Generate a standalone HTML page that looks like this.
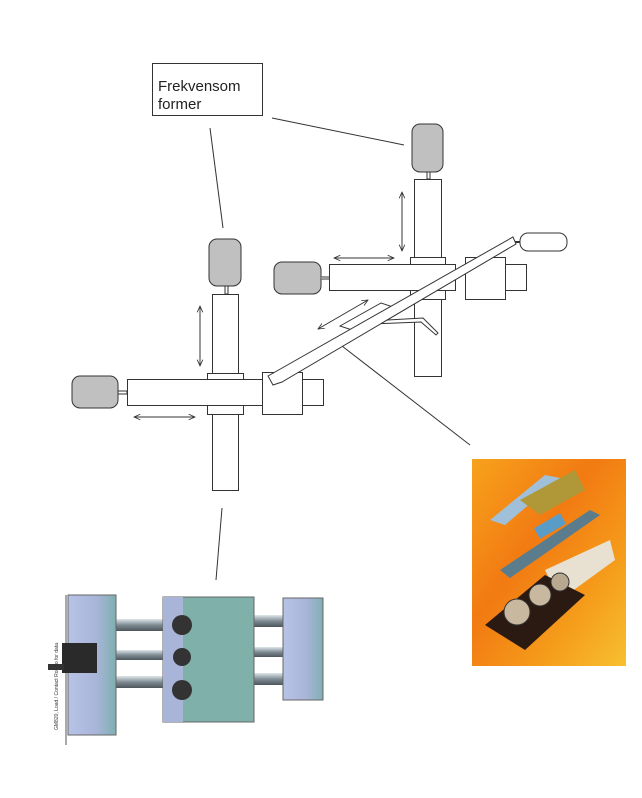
<!DOCTYPE html>
<html><head><meta charset="utf-8"><style>
html,body{margin:0;padding:0;background:#fff;width:642px;height:798px;overflow:hidden}
svg{display:block}
</style></head><body>
<svg width="642" height="798" viewBox="0 0 642 798" xmlns="http://www.w3.org/2000/svg">
<defs>
<marker id="ah" viewBox="0 0 10 10" refX="9" refY="5" markerWidth="7" markerHeight="7" orient="auto-start-reverse"><path d="M0,1 L9,5 L0,9" fill="none" stroke="#333" stroke-width="1.2"/></marker>
<linearGradient id="org" x1="0" y1="0" x2="1" y2="1"><stop offset="0" stop-color="#f7a21c"/><stop offset="0.4" stop-color="#f27a12"/><stop offset="0.7" stop-color="#f59a1a"/><stop offset="1" stop-color="#f7c030"/></linearGradient>
<linearGradient id="rod" x1="0" y1="0" x2="0" y2="1"><stop offset="0" stop-color="#dfe6ea"/><stop offset="0.5" stop-color="#7f8c94"/><stop offset="1" stop-color="#4c565c"/></linearGradient>
<linearGradient id="plate" x1="0" y1="0" x2="1" y2="0"><stop offset="0" stop-color="#b8c4e6"/><stop offset="0.6" stop-color="#a8b4d8"/><stop offset="1" stop-color="#7fb0b0"/></linearGradient>
</defs>
<g fill="none" stroke="#333" stroke-width="1">
<!-- label box -->
<rect x="152.5" y="63.5" width="110" height="52" fill="#fff"/>
<line x1="210" y1="128" x2="223" y2="228"/>
<line x1="272" y1="118" x2="404" y2="145"/>
<line x1="222" y1="508" x2="216" y2="580"/>
<line x1="342" y1="346" x2="470" y2="445"/>

<!-- RIGHT system -->
<rect x="412" y="124" width="31" height="48" rx="8" fill="#c0c0c0"/>
<rect x="427" y="172" width="3" height="7" fill="#fff"/>
<rect x="414.5" y="179.5" width="27" height="197" fill="#fff"/>
<rect x="410.5" y="257.5" width="35" height="7" fill="#fff"/>
<rect x="410.5" y="290.5" width="35" height="9" fill="#fff"/>
<rect x="329.5" y="264.5" width="126" height="26" fill="#fff"/>
<rect x="274" y="262" width="47" height="32" rx="8" fill="#c0c0c0"/>
<line x1="321" y1="278" x2="329" y2="278" stroke-width="3"/>
<line x1="321" y1="278" x2="329" y2="278" stroke="#fff" stroke-width="1"/>
<rect x="465.5" y="257.5" width="40" height="42" fill="#fff"/>
<rect x="505.5" y="264.5" width="21" height="26" fill="#fff"/>
<line x1="402" y1="192" x2="402" y2="251" marker-start="url(#ah)" marker-end="url(#ah)"/>
<line x1="334" y1="258" x2="394" y2="258" marker-start="url(#ah)" marker-end="url(#ah)"/>
<line x1="318" y1="329" x2="368" y2="300" marker-start="url(#ah)" marker-end="url(#ah)"/>
<polygon points="340,326 381,303 402,310 361,333" fill="#fff"/>
<polyline points="370,321 423,318 438,333 436,335 421,322 370,324" fill="#fff"/>
<rect x="520" y="233" width="47" height="18" rx="8" fill="#fff"/>
<line x1="514" y1="242" x2="520" y2="242" stroke-width="2"/>

<!-- LEFT system -->
<rect x="209" y="239" width="32" height="47" rx="8" fill="#c0c0c0"/>
<rect x="225" y="286" width="3" height="8" fill="#fff"/>
<rect x="212.5" y="294.5" width="26" height="196" fill="#fff"/>
<rect x="207.5" y="373.5" width="36" height="7" fill="#fff"/>
<rect x="207.5" y="405.5" width="36" height="9" fill="#fff"/>
<rect x="127.5" y="379.5" width="135" height="26" fill="#fff"/>
<rect x="72" y="376" width="46" height="32" rx="8" fill="#c0c0c0"/>
<rect x="118" y="391" width="9" height="3" fill="#fff"/>
<rect x="262.5" y="372.5" width="40" height="42" fill="#fff"/>
<rect x="302.5" y="379.5" width="21" height="26" fill="#fff"/>
<line x1="200" y1="306" x2="200" y2="366" marker-start="url(#ah)" marker-end="url(#ah)"/>
<line x1="134" y1="417" x2="195" y2="417" marker-start="url(#ah)" marker-end="url(#ah)"/>

<!-- rod -->
<polygon points="268,376 513,237 516,244 282,382 273,385" fill="#fff"/>
</g>
<text x="158" y="91" font-family="Liberation Sans, sans-serif" font-size="15" fill="#222">Frekvensom</text>
<text x="158" y="109" font-family="Liberation Sans, sans-serif" font-size="15" fill="#222">former</text>

<!-- right photo -->
<rect x="472" y="459" width="154" height="207" fill="url(#org)"/>
<polygon points="490,520 545,475 560,478 505,525" fill="#9fc0d8"/>
<polygon points="520,500 575,470 585,490 540,515" fill="#b09838"/>
<polygon points="500,570 590,510 600,515 510,578" fill="#5a7c8c"/>
<rect x="535" y="520" width="30" height="12" fill="#5a9cc8" transform="rotate(-30 550 526)"/>
<polygon points="545,570 610,540 615,560 560,600" fill="#e8e0d0"/>
<polygon points="485,625 545,575 585,595 525,650" fill="#2a1a12"/>
<circle cx="517" cy="612" r="13" fill="#c8b8a0" stroke="#333"/>
<circle cx="540" cy="595" r="11" fill="#c8b8a0" stroke="#333"/>
<circle cx="560" cy="582" r="9" fill="#b8a890" stroke="#333"/>

<!-- bottom-left photo -->
<line x1="66" y1="595" x2="66" y2="745" stroke="#555"/>
<text transform="translate(58,730) rotate(-90)" font-family="Liberation Sans, sans-serif" font-size="5" fill="#333">GM820, Load / Contact Robico for data.</text>
<rect x="110" y="619" width="55" height="12" fill="url(#rod)"/>
<rect x="110" y="676" width="55" height="12" fill="url(#rod)"/>
<rect x="110" y="650" width="55" height="10" fill="url(#rod)"/>
<rect x="250" y="615" width="40" height="12" fill="url(#rod)"/>
<rect x="250" y="647" width="40" height="10" fill="url(#rod)"/>
<rect x="250" y="673" width="40" height="12" fill="url(#rod)"/>
<rect x="68" y="595" width="48" height="140" fill="url(#plate)" stroke="#666"/>
<rect x="62" y="643" width="35" height="30" fill="#2a2a2a"/>
<rect x="48" y="664" width="16" height="6" fill="#333"/>
<rect x="163" y="597" width="91" height="125" fill="#7fb0aa" stroke="#666"/>
<rect x="163" y="597" width="20" height="125" fill="#a8b4d8"/>
<circle cx="182" cy="625" r="10" fill="#333"/>
<circle cx="182" cy="657" r="9" fill="#333"/>
<circle cx="182" cy="690" r="10" fill="#333"/>
<rect x="283" y="598" width="40" height="102" fill="url(#plate)" stroke="#666"/>
</svg>
</body></html>
